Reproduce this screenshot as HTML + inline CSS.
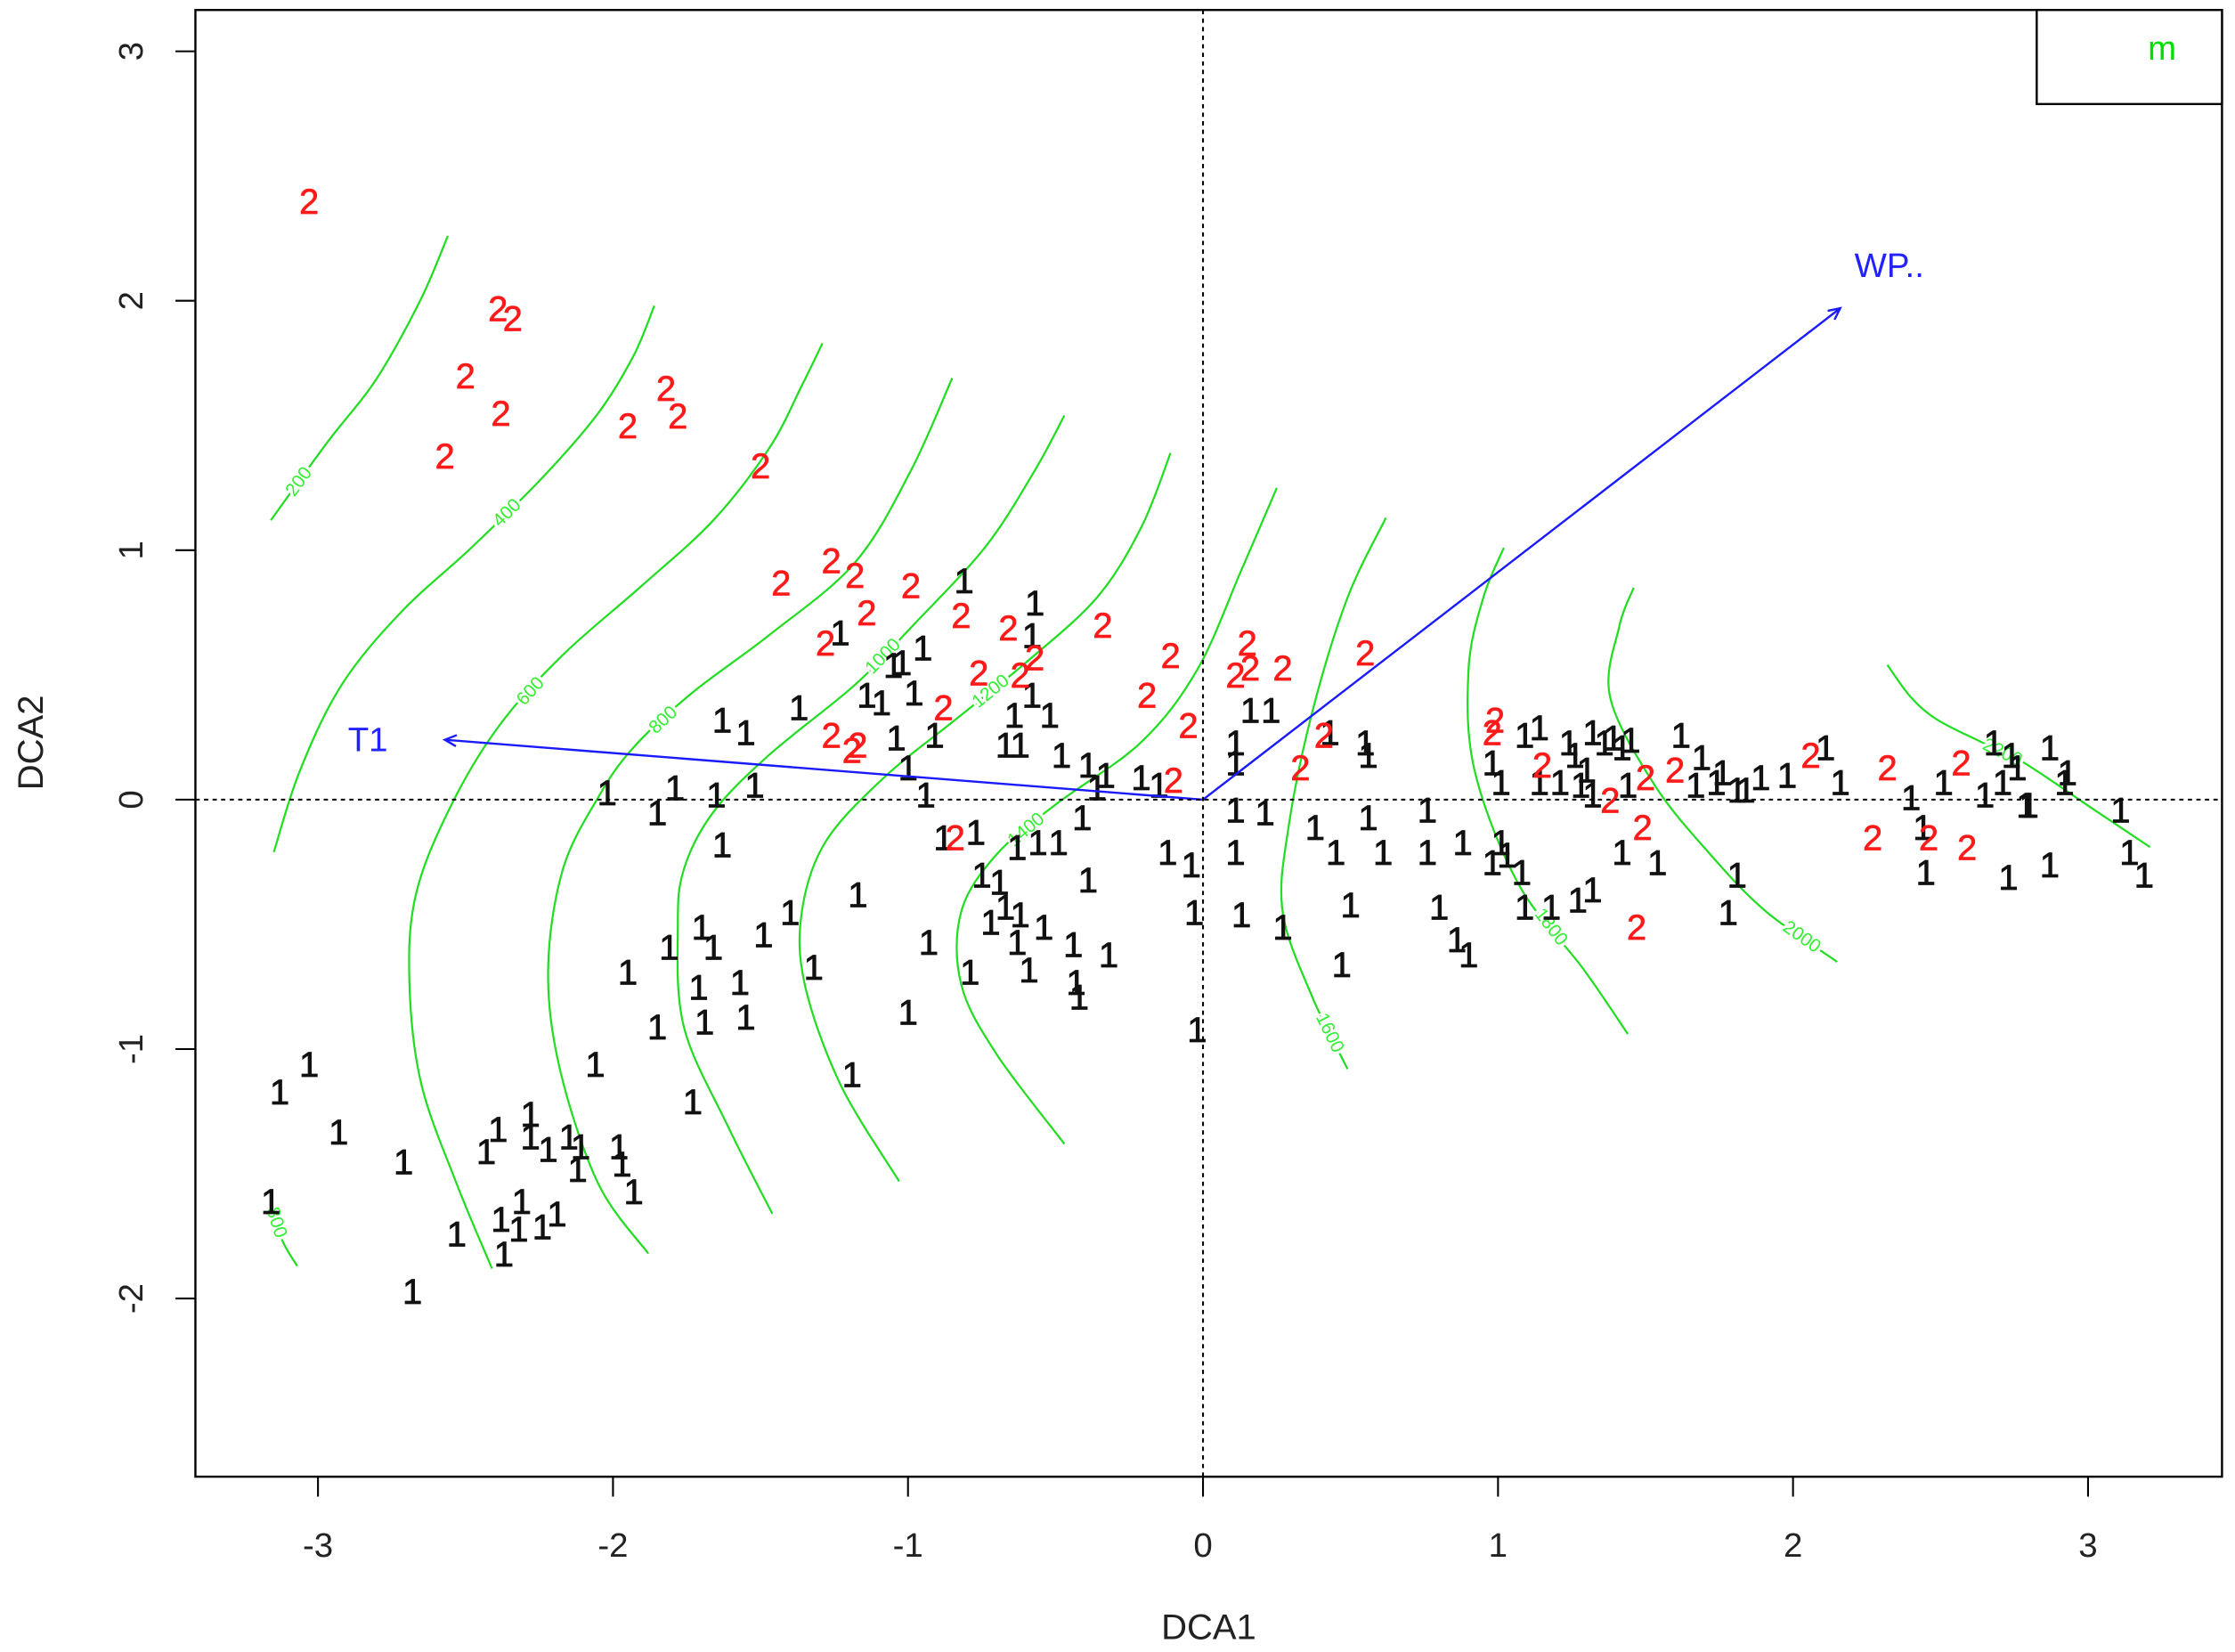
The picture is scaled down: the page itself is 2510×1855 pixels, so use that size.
<!DOCTYPE html>
<html><head><meta charset="utf-8"><style>
html,body{margin:0;padding:0;background:#fff}
svg{display:block}
text{font-family:"Liberation Sans",Arial,sans-serif}
</style></head><body>
<svg id="chart" width="2510" height="1855" viewBox="0 0 1568 1159" xmlns="http://www.w3.org/2000/svg">
<rect x="0" y="0" width="1568" height="1159" fill="#fff"/>
<g id="contours"></g>
<g id="pts"></g>
<g id="arrows"></g>
<g id="axes"></g>
<rect x="137" y="7" width="1422" height="1029" fill="none" stroke="#000" stroke-width="1.5"/>
<rect x="1429" y="7" width="130" height="66" fill="#fff" stroke="#000" stroke-width="1.5"/>
<text x="1517" y="42" fill="#00dd00" font-size="24" text-anchor="middle">m</text>
<text x="848" y="1150" font-size="25" text-anchor="middle" fill="#222">DCA1</text>
<text transform="translate(30,521) rotate(-90)" font-size="25" text-anchor="middle" fill="#222">DCA2</text>
</svg>
<script>
const xTicks=[-3,-2,-1,0,1,2,3];
const yTicks=[-2,-1,0,1,2,3];
const group2X=[-3.03,-2.39,-2.34,-2.50,-2.38,-2.57,-1.95,-1.82,-1.78,-1.50,-1.43,-1.26,-1.18,-0.99,-1.14,-1.28,-0.82,-0.66,-0.76,-0.62,-0.57,-0.34,-0.11,0.15,0.11,0.16,0.27,0.55,-0.19,-0.05,-0.88,-1.26,-1.17,-1.19,-0.10,0.33,0.41,0.99,0.98,1.15,1.38,1.50,1.49,1.60,1.47,2.06,2.32,2.57,2.27,2.46,2.59,-0.84];
const group2Y=[2.40,1.97,1.93,1.70,1.55,1.38,1.50,1.65,1.54,1.34,0.87,0.96,0.90,0.86,0.75,0.63,0.74,0.69,0.51,0.50,0.57,0.70,0.58,0.63,0.50,0.53,0.53,0.59,0.42,0.30,0.37,0.26,0.22,0.20,0.08,0.13,0.26,0.32,0.27,0.14,0.00,0.09,-0.11,0.12,-0.51,0.18,0.13,0.15,-0.15,-0.15,-0.19,-0.15];
const group1X=[-3.16,-3.13,-3.03,-2.93,-2.71,-2.68,-2.53,-2.43,-2.39,-2.38,-2.37,-2.32,-2.31,-2.28,-2.28,-2.24,-2.22,-2.19,-2.15,-2.12,-2.11,-2.06,-1.98,-1.97,-1.93,-1.95,-1.85,-1.81,-1.73,-1.71,-1.70,-1.69,-1.66,-1.57,-1.55,-1.49,-1.40,-1.32,-1.17,-1.19,-1.00,-0.93,-0.79,-0.72,-0.69,-0.67,-0.63,-0.62,-0.59,-0.54,-0.44,-0.43,-0.42,-0.32,-0.39,-0.03,-0.02,0.13,0.27,0.47,0.50,0.80,0.86,0.90,1.09,1.18,1.27,1.32,1.78,
-2.02,-1.85,-1.79,-1.65,-1.63,-1.52,-1.63,-1.55,-1.37,-1.23,-1.14,-1.09,-1.05,-1.02,-0.98,-0.95,-1.04,-0.91,-1.00,-0.94,-0.81,-0.64,-0.67,-0.62,-0.58,-0.52,-0.57,-0.58,-0.48,-0.39,-0.33,-0.36,-0.21,-0.15,-0.41,-0.77,-0.88,-0.63,-0.56,-0.49,-0.12,-0.04,-0.75,0.11,0.11,0.16,0.23,0.11,0.21,0.11,0.38,0.45,0.56,0.56,0.55,0.61,0.43,0.76,0.76,0.88,0.98,1.01,1.03,1.08,0.98,1.01,1.09,1.14,1.14,1.21,1.24,1.26,1.28,1.30,1.32,1.36,1.39,1.42,1.45,1.44,1.32,1.42,1.54,1.62,1.67,1.69,1.74,1.76,1.81,1.84,1.89,1.98,2.16,2.11,1.81,2.40,2.51,2.44,2.45,2.65,2.68,2.71,2.74,2.76,2.79,2.80,2.87,2.92,2.93,2.73,2.87,3.11,3.14,3.19];
const group1Y=[-1.61,-1.17,-1.06,-1.33,-1.45,-1.97,-1.74,-1.41,-1.32,-1.68,-1.82,-1.72,-1.61,-1.26,-1.35,-1.71,-1.40,-1.66,-1.35,-1.48,-1.39,-1.06,-1.39,-1.46,-1.57,-0.69,-0.91,-0.59,-1.21,-0.75,-0.51,-0.89,-0.59,-0.73,-0.87,-0.54,-0.45,-0.67,-0.38,-1.10,-0.85,-0.57,-0.69,-0.49,-0.33,-0.43,-0.57,-0.46,-0.68,-0.51,-0.58,-0.73,-0.79,-0.62,-0.32,-0.45,-0.92,-0.46,-0.51,-0.66,-0.42,-0.43,-0.56,-0.62,-0.43,-0.43,-0.40,-0.36,-0.45,
0.03,-0.05,0.05,0.02,-0.18,0.06,0.32,0.27,0.37,0.67,0.42,0.39,0.54,0.55,0.43,0.61,0.25,0.26,0.13,0.02,0.88,0.34,0.22,0.22,0.42,0.34,0.79,0.66,0.18,0.14,0.10,0.05,0.09,0.06,-0.07,-0.13,-0.15,-0.19,-0.17,-0.17,-0.21,-0.26,-0.30,0.23,0.15,0.36,0.36,-0.04,-0.05,-0.21,-0.11,-0.21,-0.07,0.18,0.23,-0.21,0.27,-0.04,-0.21,-0.17,-0.25,-0.17,-0.22,-0.29,0.15,0.07,0.26,0.29,0.07,0.07,0.23,0.18,0.06,0.12,0.27,0.23,0.25,0.21,0.24,0.06,0.02,-0.21,-0.25,0.26,0.06,0.17,0.07,0.11,0.04,0.04,0.09,0.10,0.07,0.21,-0.30,0.01,0.07,-0.11,-0.29,0.02,0.23,0.07,0.18,0.13,-0.02,-0.02,0.21,0.07,0.11,-0.31,-0.26,-0.04,-0.21,-0.30];
const contourLevels=["200","400","600","800","800","1000","1200","1400","1600","1800","2000","2200"];
const contourX=[[-3.16,-2.97,-2.80,-2.65,-2.56],[-3.15,-3.06,-2.92,-2.72,-2.48,-2.24,-2.05,-1.93,-1.86],[-2.41,-2.53,-2.65,-2.69,-2.67,-2.56,-2.39,-2.17,-1.90,-1.66,-1.47,-1.36,-1.29],[-3.16,-3.12,-3.07],[-1.88,-2.05,-2.18,-2.22,-2.17,-2.05,-1.93,-1.73,-1.47,-1.18,-0.99,-0.85],[-1.46,-1.61,-1.76,-1.78,-1.76,-1.66,-1.47,-1.18,-0.99,-0.74,-0.57,-0.47],[-1.03,-1.23,-1.35,-1.36,-1.28,-1.08,-0.84,-0.60,-0.36,-0.21,-0.11],[-0.47,-0.70,-0.82,-0.82,-0.70,-0.50,-0.21,-0.02,0.13,0.25],[0.49,0.37,0.27,0.29,0.37,0.49,0.62],[1.44,1.29,1.07,0.92,0.90,0.95,1.02],[2.15,1.91,1.72,1.53,1.38,1.41,1.46],[2.32,2.40,2.49,2.64,2.78,3.02,3.21]];
const contourY=[[1.12,1.43,1.69,2.01,2.26],[-0.21,0.12,0.46,0.75,1.01,1.29,1.55,1.78,1.98],[-1.88,-1.54,-1.14,-0.74,-0.39,-0.05,0.29,0.58,0.86,1.12,1.41,1.66,1.83],[-1.62,-1.77,-1.87],[-1.82,-1.54,-1.08,-0.68,-0.28,0.01,0.21,0.43,0.66,0.95,1.32,1.69],[-1.66,-1.31,-0.91,-0.51,-0.28,-0.05,0.18,0.46,0.69,1.01,1.32,1.54],[-1.53,-1.14,-0.74,-0.45,-0.17,0.09,0.32,0.55,0.81,1.09,1.39],[-1.38,-1.02,-0.74,-0.45,-0.22,-0.02,0.23,0.52,0.92,1.25],[-1.08,-0.79,-0.45,-0.11,0.35,0.81,1.13],[-0.94,-0.68,-0.34,0.12,0.52,0.81,1.01],[-0.65,-0.45,-0.22,0.06,0.41,0.69,0.85],[0.54,0.41,0.32,0.23,0.15,-0.04,-0.19]];
const labelIdx=[0,4,6,0,6,7,6,4,0,1,0,3];
const arrowNames=["T1","WP.."];
const arrowX=[-2.57,2.16];
const arrowY=[0.24,1.97];

const NS="http://www.w3.org/2000/svg";
const X0=844,XS=207,Y0=561,YS=175;
function sx(v){return X0+v*XS;}
function sy(v){return Y0-v*YS;}
function mk(tag,attrs,parent){const e=document.createElementNS(NS,tag);for(const k in attrs)e.setAttribute(k,attrs[k]);parent.appendChild(e);return e;}
function smooth(P){
  let d='M'+P[0][0].toFixed(1)+','+P[0][1].toFixed(1);
  for(let i=0;i<P.length-1;i++){
    const p0=P[Math.max(i-1,0)],p1=P[i],p2=P[i+1],p3=P[Math.min(i+2,P.length-1)];
    const c1=[p1[0]+(p2[0]-p0[0])/6,p1[1]+(p2[1]-p0[1])/6];
    const c2=[p2[0]-(p3[0]-p1[0])/6,p2[1]-(p3[1]-p1[1])/6];
    d+=` C${c1[0].toFixed(1)},${c1[1].toFixed(1)} ${c2[0].toFixed(1)},${c2[1].toFixed(1)} ${p2[0].toFixed(1)},${p2[1].toFixed(1)}`;
  }
  return d;
}

const axes=document.getElementById('axes');
let l=mk('line',{x1:sx(0),x2:sx(0),y1:7,y2:1036,stroke:'#000','stroke-dasharray':'3,3','stroke-width':1.3},axes);


l=mk('line',{x1:137,x2:1559,y1:sy(0),y2:sy(0),stroke:'#000','stroke-dasharray':'3,3','stroke-width':1.3},axes);


xTicks.forEach(t=>{
  const tk=mk('line',{x1:sx(t),x2:sx(t),y1:1036,y2:1050,stroke:'#000','stroke-width':1.3},axes);
  
  
  const tx=mk('text',{x:sx(t),y:1092,'font-size':24,'text-anchor':'middle',fill:'#222'},axes);
  tx.textContent=String(t);
  
  
});
mk('line',{x1:sx(-3),x2:sx(3),y1:1036,y2:1036,stroke:'#000','stroke-width':1.3},axes);
yTicks.forEach(t=>{
  const tk=mk('line',{x1:123,x2:137,y1:sy(t),y2:sy(t),stroke:'#000','stroke-width':1.3},axes);
  
  
  const tx=mk('text',{transform:`translate(100,${sy(t)}) rotate(-90)`,'font-size':24,'text-anchor':'middle',fill:'#222'},axes);
  tx.textContent=String(t);
  
  
});

const cg=document.getElementById('contours');
contourX.forEach((xs,i)=>{
  const ys=contourY[i];
  const P=xs.map((x,j)=>[sx(x),sy(ys[j])]);
  const p=mk('path',{d:smooth(P),fill:'none',stroke:'#22dd22','stroke-width':1.4},cg);
  
  
  const k=Math.min(labelIdx[i],xs.length-2);
  const px=P[k][0],py=P[k][1],qx=P[k+1][0],qy=P[k+1][1];
  const mx=(px+qx)/2,my=(py+qy)/2;
  let ang=Math.atan2(qy-py,qx-px)*180/Math.PI;
  if(ang>90)ang-=180; if(ang<-90)ang+=180;
  const lt=mk('text',{transform:`translate(${mx},${my}) rotate(${ang})`,'font-size':13,'text-anchor':'middle','dominant-baseline':'central',fill:'#33ee33',stroke:'#fff','stroke-width':4,'paint-order':'stroke'},cg);
  lt.textContent=contourLevels[i];
  
  
});

const pg=document.getElementById('pts');
group1X.forEach((x,i)=>{
  const t=mk('text',{x:sx(x),y:sy(group1Y[i])+9,'font-size':25,'text-anchor':'middle',fill:'#111',stroke:'#111','stroke-width':0.5},pg);
  t.textContent='1';
  
  
});
group2X.forEach((x,i)=>{
  const t=mk('text',{x:sx(x),y:sy(group2Y[i])+9,'font-size':25,'text-anchor':'middle',fill:'#ff1a1a',stroke:'#ff1a1a','stroke-width':0.4},pg);
  t.textContent='2';
  
  
});

const ag=document.getElementById('arrows');
arrowX.forEach((x,i)=>{
  const x1=sx(0),y1=sy(0),x2=sx(x),y2=sy(arrowY[i]);
  const ln=mk('line',{x1:x1,y1:y1,x2:x2,y2:y2,stroke:'#1a1aff','stroke-width':1.5},ag);
  
  
  const a=Math.atan2(y2-y1,x2-x1),h=9;
  const d=`M${x2-h*Math.cos(a-0.45)},${y2-h*Math.sin(a-0.45)} L${x2},${y2} L${x2-h*Math.cos(a+0.45)},${y2-h*Math.sin(a+0.45)}`;
  const hd=mk('path',{d:d,fill:'none',stroke:'#1a1aff','stroke-width':1.5},ag);
  
  
  const lx=i===0?x2-68:x2+10, ly=i===0?y2+8:y2-22;
  const tt=mk('text',{x:lx,y:ly,'font-size':24,fill:'#2222ff'},ag);
  tt.textContent=arrowNames[i];
  
  
});
</script>
</body></html>
